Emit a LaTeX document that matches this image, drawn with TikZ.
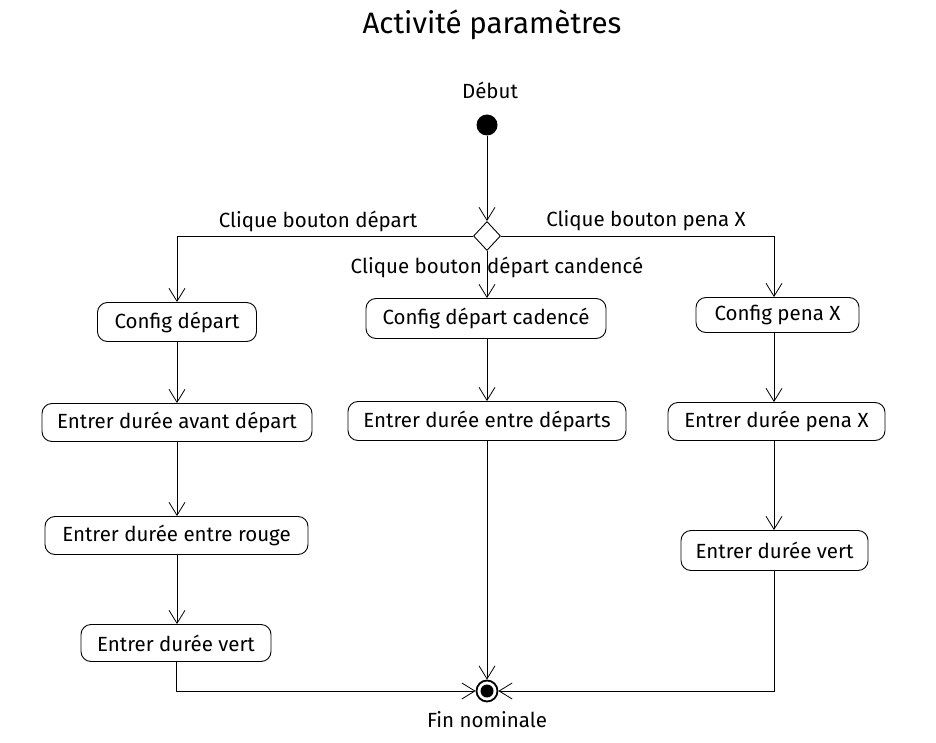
\documentclass[tikz,border=0pt]{standalone}
\usepackage{fontspec}
\setmainfont{Fira Sans}
\usetikzlibrary{arrows.meta,shapes.geometric}
\begin{document}
\begin{tikzpicture}[x=1pt,y=-1pt,
  every node/.style={font=\fontsize{20.5}{24}\selectfont},
  act/.style={draw,rounded corners=10pt,line width=0.9pt,inner sep=0pt,anchor=center},
  flow/.style={draw,line width=0.9pt,-{Straight Barb[length=13pt,width=16pt,line width=0.8pt]}},
  lbl/.style={inner sep=0pt}]
\useasboundingbox (0,0) rectangle (936,743);
\node[lbl,font=\fontsize{29.5}{34}\selectfont] (title) at (492,25) {Activité paramètres};
\node[lbl] (debut) at (490,90) {Début};
\node[circle,fill=black,minimum size=21pt,inner sep=0pt] (init) at (487,125) {};
\node[diamond,draw,line width=0.9pt,minimum width=27pt,minimum height=29pt,inner sep=0pt] (dec) at (487,236) {};
\node[lbl] (l1) at (318,221) {Clique bouton départ};
\node[lbl] (l2) at (646,221) {Clique bouton pena X};
\node[lbl] (l3) at (497,267) {Clique bouton départ candencé};
% left column
\node[act,minimum width=159pt,minimum height=39pt] (a1) at (177,322) {Config départ};
\node[act,minimum width=270pt,minimum height=38pt] (a2) at (177,422.5) {Entrer durée avant départ};
\node[act,minimum width=263pt,minimum height=38pt] (a3) at (176.5,535.5) {Entrer durée entre rouge};
\node[act,minimum width=190pt,minimum height=37pt] (a4) at (176,643) {Entrer durée vert};
% middle column
\node[act,minimum width=240pt,minimum height=40pt] (b1) at (486,318.5) {Config départ cadencé};
\node[act,minimum width=278pt,minimum height=39pt] (b2) at (487,421) {Entrer durée entre départs};
% right column
\node[act,minimum width=163pt,minimum height=35pt] (c1) at (777.5,315) {Config pena X};
\node[act,minimum width=217pt,minimum height=38pt] (c2) at (776.5,421.5) {Entrer durée pena X};
\node[act,minimum width=187pt,minimum height=40pt] (c3) at (774.5,550.5) {Entrer durée vert};
% final
\node[circle,draw,line width=1.8pt,minimum size=21pt,inner sep=0pt] (fin) at (487,691) {};
\node[circle,fill=black,minimum size=13pt,inner sep=0pt] at (fin) {};
\node[lbl] (finl) at (487,720) {Fin nominale};
% flows
\draw[flow] (init) -- (dec.north);
\draw[flow] (dec.west) -| (a1.north -| 177,0);
\draw[flow] (dec.east) -| (c1.north -| 774,0);
\draw[flow] (dec.south) -- (b1.north -| 487,0);
\draw[flow] (a1.south -| 177,0) -- (a2.north -| 177,0);
\draw[flow] (a2.south -| 177,0) -- (a3.north -| 177,0);
\draw[flow] (a3.south -| 177,0) -- (a4.north -| 177,0);
\draw[flow] (b1.south -| 487,0) -- (b2.north -| 487,0);
\draw[flow] (c1.south -| 774,0) -- (c2.north -| 774,0);
\draw[flow] (c2.south -| 774,0) -- (c3.north -| 774,0);
\draw[flow] (a4.south -| 176,0) |- (fin.west);
\draw[flow] (b2.south -| 487,0) -- (fin.north);
\draw[flow] (c3.south -| 774,0) |- (fin.east);
\end{tikzpicture}
\end{document}
